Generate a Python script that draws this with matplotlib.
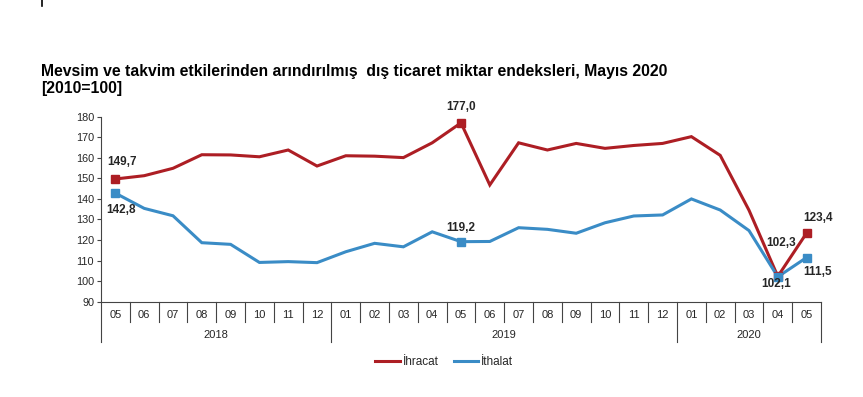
import matplotlib
matplotlib.use("Agg")
import matplotlib.pyplot as plt
import matplotlib.transforms as mtransforms
from matplotlib.lines import Line2D

# ---------------------------------------------------------------------------
# Data (index values, 2010=100)
# ---------------------------------------------------------------------------
MONTHS = ["05", "06", "07", "08", "09", "10", "11", "12",
          "01", "02", "03", "04", "05", "06", "07", "08", "09", "10", "11", "12",
          "01", "02", "03", "04", "05"]
YEARS = ["2018", "2019", "2020"]
YEAR_COUNTS = [8, 12, 5]

IHRACAT = [149.7, 151.3, 154.9, 161.5, 161.4, 160.5, 163.8, 156.0,
           161.0, 160.8, 160.1, 167.3, 177.0, 146.8, 167.3, 163.8,
           167.0, 164.6, 166.0, 167.0, 170.3, 161.2, 134.5, 102.3, 123.4]
ITHALAT = [142.8, 135.4, 131.8, 118.7, 117.9, 109.1, 109.5, 109.0,
           114.3, 118.4, 116.7, 124.0, 119.2, 119.3, 126.0, 125.2,
           123.3, 128.4, 131.7, 132.2, 140.0, 134.6, 124.6, 102.1, 111.5]

LABELLED = [0, 12, 23, 24]

# label offsets in pixels (dx, dy) for each labelled point
RED_OFFSETS = [(7, 17), (0, 16), (3, 33), (11, 15)]
BLUE_OFFSETS = [(6, -17), (0, 14), (-2, -7), (11, -14)]

RED = "#AD1E24"
BLUE = "#3A8CC6"
TXT = "#262626"

plt.rcParams["font.family"] = ["Liberation Sans", "DejaVu Sans"]

fig = plt.figure(figsize=(8.63, 3.97), dpi=100)
W, H = 863, 397
ax = fig.add_axes([101 / W, 1 - 301.7 / H, 720 / W, 185 / H])

x = list(range(len(MONTHS)))
ax.plot(x, IHRACAT, color=RED, lw=2.2, solid_joinstyle="miter", zorder=3)
ax.plot(x, ITHALAT, color=BLUE, lw=2.2, solid_joinstyle="miter", zorder=3)

for series, color, offsets in [(IHRACAT, RED, RED_OFFSETS), (ITHALAT, BLUE, BLUE_OFFSETS)]:
    ax.plot([x[i] for i in LABELLED], [series[i] for i in LABELLED], "s",
            color=color, ms=5.5, zorder=4)
    for i, (dx, dy) in zip(LABELLED, offsets):
        ax.annotate(f"{series[i]:.1f}".replace(".", ","), (x[i], series[i]),
                    xytext=(dx, dy), textcoords="offset pixels",
                    ha="center", va="center", fontsize=8.5, weight="bold",
                    color=TXT, zorder=5)

ax.set_xlim(-0.5, len(MONTHS) - 0.5)
ax.set_ylim(90, 180)
ax.set_yticks(range(90, 181, 10))
ax.tick_params(axis="y", length=3, width=0.8, labelsize=7.8, labelcolor=TXT, pad=2, color="#444444")
ax.set_xticks([])
for side in ["top", "right"]:
    ax.spines[side].set_visible(False)
for side in ["left", "bottom"]:
    ax.spines[side].set_color("#444444")
    ax.spines[side].set_linewidth(0.8)

# category axis: separators, month labels, year labels
trans = mtransforms.blended_transform_factory(ax.transData, ax.transAxes)
px = 1 / 185
year_bounds = [-0.5]
for c in YEAR_COUNTS:
    year_bounds.append(year_bounds[-1] + c)
for b in [i - 0.5 for i in range(len(MONTHS) + 1)]:
    depth = -40 * px if b in year_bounds else -20 * px
    ax.plot([b, b], [0, depth], color="#444444", lw=0.8, transform=trans, clip_on=False)
for i, m in enumerate(MONTHS):
    ax.text(i, -13 * px, m, transform=trans, ha="center", va="center",
            fontsize=8, color=TXT)
for yr, a, b in zip(YEARS, year_bounds[:-1], year_bounds[1:]):
    ax.text((a + b) / 2, -33.5 * px, yr, transform=trans, ha="center", va="center",
            fontsize=8, color=TXT)

# title
fig.text(41 / W, 1 - 64 / H,
         "Mevsim ve takvim etkilerinden arındırılmış  dış ticaret miktar endeksleri, Mayıs 2020\n[2010=100]",
         ha="left", va="top", fontsize=11.35, weight="bold", color="black", linespacing=1.15)

# legend
handles = [Line2D([], [], color=RED, lw=2.2), Line2D([], [], color=BLUE, lw=2.2)]
fig.legend(handles, ["İhracat", "İthalat"], loc="center", ncol=2, frameon=False,
           bbox_to_anchor=(444 / W, 1 - 362 / H), fontsize=8.5, handlelength=2.1,
           handletextpad=0.2, columnspacing=1.3, labelcolor=TXT)

# small mark at the top-left corner
fig.add_artist(Line2D([42 / W, 42 / W], [1, 1 - 6 / H], color="black", lw=1.2))

fig.savefig("out.png", dpi=100)
